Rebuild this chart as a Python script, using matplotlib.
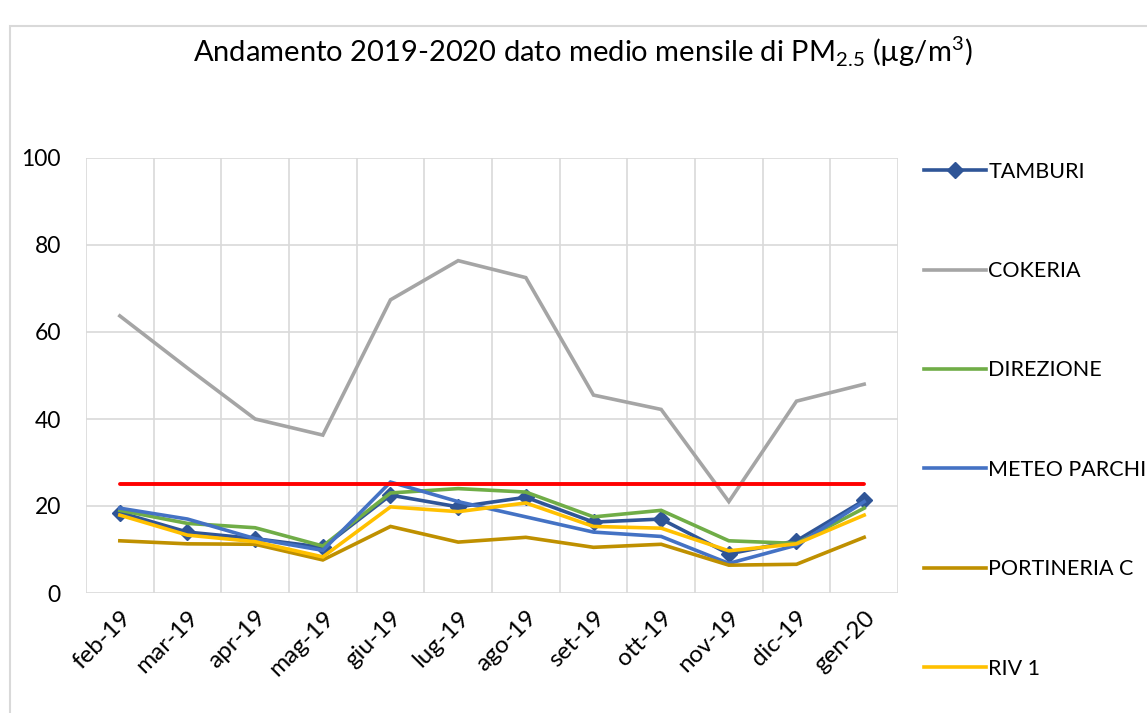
import numpy as np
import matplotlib
matplotlib.use("Agg")
import matplotlib.pyplot as plt
import matplotlib.transforms as mtransforms
from matplotlib.patches import Rectangle

plt.rcParams['font.family'] = ['Lato', 'DejaVu Sans']

mesi = ["feb-19", "mar-19", "apr-19", "mag-19", "giu-19", "lug-19",
        "ago-19", "set-19", "ott-19", "nov-19", "dic-19", "gen-20"]

tamburi = [18.5, 14.0, 12.5, 10.5, 22.5, 19.8, 22.0, 16.3, 17.0, 9.0, 12.0, 21.3]
cokeria = [63.7, 51.7, 40.0, 36.3, 67.4, 76.4, 72.5, 45.5, 42.2, 21.0, 44.1, 48.0]
direzione = [19.0, 16.0, 15.0, 10.8, 23.0, 24.0, 23.2, 17.5, 19.0, 12.0, 11.4, 19.5]
meteo_parchi = [19.5, 17.0, 12.5, 9.8, 25.5, 21.0, 17.5, 14.0, 13.0, 6.8, 11.0, 21.0]
portineria_c = [12.0, 11.3, 11.2, 7.6, 15.3, 11.7, 12.8, 10.5, 11.2, 6.4, 6.6, 12.8]
riv1 = [17.9, 13.3, 11.8, 8.3, 19.8, 18.7, 20.7, 15.3, 14.9, 9.7, 11.3, 17.9]
limite = [25] * 12

serie = [
    ("TAMBURI", tamburi, "#2F5597", "D"),
    ("COKERIA", cokeria, "#A5A5A5", None),
    ("DIREZIONE", direzione, "#70AD47", None),
    ("METEO PARCHI", meteo_parchi, "#4472C4", None),
    ("PORTINERIA C", portineria_c, "#BF9000", None),
    ("RIV 1", riv1, "#FFC000", None),
]

fig = plt.figure(figsize=(11.47, 7.13), dpi=100)
ax = fig.add_axes([86 / 1147, 120 / 713, 812 / 1147, 435 / 713])

x = np.arange(len(mesi))
for nome, valori, colore, marker in serie:
    ax.plot(x, valori, color=colore, lw=2.6, marker=marker, markersize=8,
            label=nome, solid_joinstyle='miter')
ax.plot(x, limite, color="#FF0000", lw=2.8, solid_capstyle='round')

ax.set_xlim(-0.5, len(mesi) - 0.5)
ax.set_ylim(0, 100)
ax.set_yticks(np.arange(0, 101, 20))
ax.set_xticks(x)
ax.set_xticklabels(mesi, rotation=45, ha='right', rotation_mode='anchor', fontsize=17.5)
sposta = mtransforms.ScaledTranslation(8 / 100, 0, fig.dpi_scale_trans)
for lab in ax.get_xticklabels():
    lab.set_transform(lab.get_transform() + sposta)
ax.set_xticks(np.arange(-0.5, len(mesi)), minor=True)
ax.tick_params(axis='x', which='both', length=0, pad=10)
ax.tick_params(axis='y', length=0, pad=18, labelsize=16.5)
ax.grid(axis='y', color='#D9D9D9', lw=1.2)
ax.grid(axis='x', which='minor', color='#D9D9D9', lw=1.2)
ax.set_axisbelow(True)
for s in ax.spines.values():
    s.set_visible(False)

leg = fig.legend(loc='upper left', bbox_to_anchor=(915 / 1147, 1 - 153 / 713),
                 frameon=False, fontsize=15.5, handlelength=2.9, handletextpad=0.1,
                 labelspacing=3.69, borderaxespad=0)

fig.text(583 / 1147, 1 - 52 / 713,
         r"Andamento 2019-2020 dato medio mensile di PM$_{\mathregular{2.5}}$ (µg/m$^{\mathregular{3}}$)",
         ha='center', va='center', fontsize=21)

fig.patches.append(Rectangle((10 / 1147, -0.1), 2, 1 - 26 / 713 + 0.1,
                             transform=fig.transFigure, fill=False,
                             edgecolor='#D9D9D9', lw=1.5))

fig.savefig("out.png", dpi=100)
